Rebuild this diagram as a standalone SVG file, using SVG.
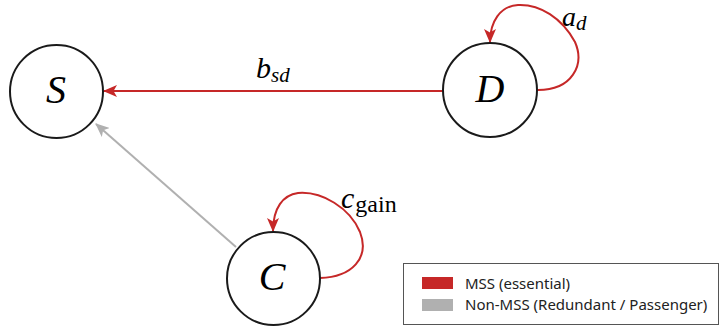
<svg xmlns="http://www.w3.org/2000/svg" width="722" height="327" viewBox="0 0 722 327">
<defs>
<marker id="ar" viewBox="0 0 14 12" refX="13" refY="6" markerWidth="14" markerHeight="12" markerUnits="userSpaceOnUse" orient="auto">
<path d="M0,0 L14,6 L0,12 L3.5,6 Z" fill="#c62828"/>
</marker>
<marker id="ag" viewBox="0 0 14 12" refX="13" refY="6" markerWidth="14" markerHeight="12" markerUnits="userSpaceOnUse" orient="auto">
<path d="M0,0 L14,6 L0,12 L3.5,6 Z" fill="#b0b0b0"/>
</marker>
</defs>
<style>
.node{fill:#fff;stroke:#1a1a1a;stroke-width:2}
.nl{font-family:"Liberation Serif",serif;font-style:italic;font-size:40px;fill:#000;text-anchor:middle}
.red{fill:none;stroke:#c62828;stroke-width:2}
.gray{fill:none;stroke:#b0b0b0;stroke-width:2}
.el{font-family:"Liberation Serif",serif;font-style:italic;font-size:30px;fill:#000}
.sub{font-size:21px}
.rm{font-style:normal;font-size:24px}
.lg{font-family:"Noto Sans","Open Sans",sans-serif;font-size:15px;fill:#222}
</style>
<rect width="722" height="327" fill="#fff"/>
<g id="edges">
<path class="red" d="M443,91 L104,91" marker-end="url(#ar)"/>
<path class="gray" d="M236,247 L96,124" marker-end="url(#ag)"/>
<path class="red" d="M538,90 C572,90 585,65 575,42 C562,18 540,4 518,5 C500,6 490,22 490,42" marker-end="url(#ar)"/>
<path class="red" d="M320,278 C352,277 370,258 360,232 C350,208 322,191 298,193 C283,195 273,208 273,231" marker-end="url(#ar)"/>
<text class="el" x="256" y="78">b<tspan class="sub" dy="4">sd</tspan></text>
<text class="el" x="562" y="26" style="font-size:28px">a<tspan class="sub" dy="4">d</tspan></text>
<text class="el" x="341" y="208">c<tspan class="rm" dx="1" dy="4">gain</tspan></text>
</g>
<g id="S"><circle class="node" cx="56.5" cy="91.5" r="46.5"/><text class="nl" x="56" y="103">S</text></g>
<g id="D"><circle class="node" cx="490" cy="90" r="47"/><text class="nl" x="490" y="102">D</text></g>
<g id="C"><circle class="node" cx="273.5" cy="278.5" r="46.5"/><text class="nl" x="272" y="290">C</text></g>
<g id="legend">
<rect x="403.5" y="263.5" width="315" height="61" fill="#fff" stroke="#555" stroke-width="1"/>
<rect x="422" y="277" width="31" height="12" fill="#c62828"/>
<rect x="422" y="299" width="31" height="12" fill="#b0b0b0"/>
<text class="lg" x="465" y="289">MSS (essential)</text>
<text class="lg" x="465" y="310">Non-MSS (Redundant / Passenger)</text>
</g>
</svg>
